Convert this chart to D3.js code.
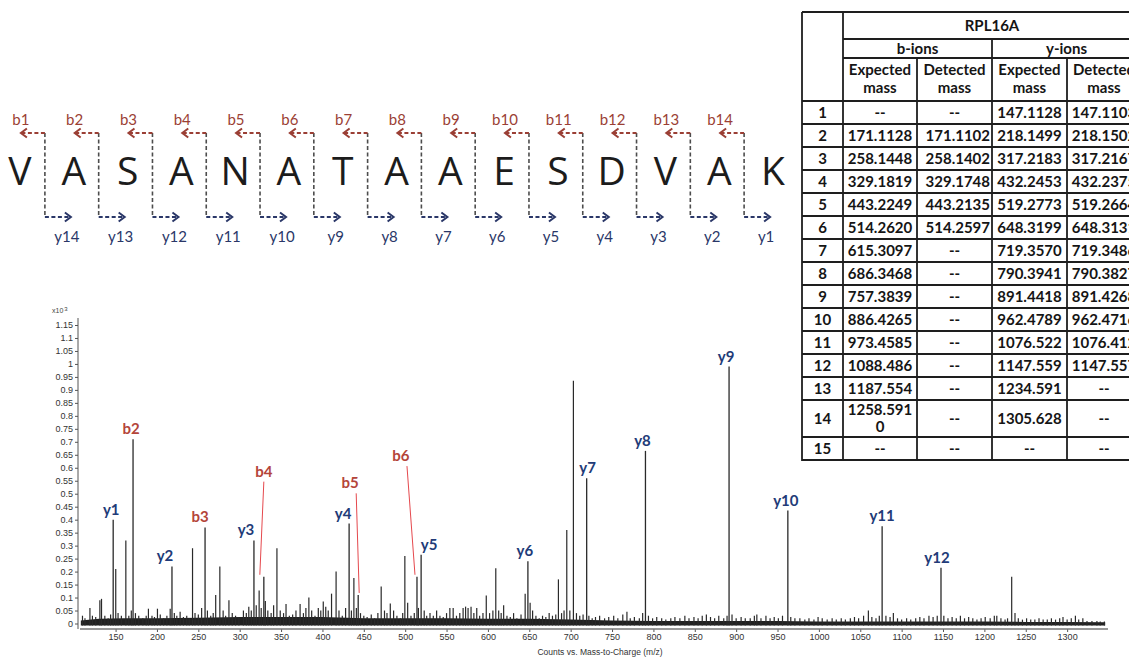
<!DOCTYPE html>
<html>
<head>
<meta charset="utf-8">
<script src="https://cdn.jsdelivr.net/npm/d3@7"></script>
<style>
  html, body { margin: 0; padding: 0; background: #fff; }
  svg { display: block; }
</style>
</head>
<body>
<svg id="fig" width="1129" height="658"></svg>
<script>
// ---------------- peptide fragmentation map ----------------
const residues = ["V","A","S","A","N","A","T","A","A","E","S","D","V","A","K"];
const bIons = ["b1","b2","b3","b4","b5","b6","b7","b8","b9","b10","b11","b12","b13","b14"];
const yIons = ["y14","y13","y12","y11","y10","y9","y8","y7","y6","y5","y4","y3","y2","y1"];

// ---------------- fragment mass table (RPL16A) ----------------
const tableTitle = "RPL16A";
const tableRows = ["1","2","3","4","5","6","7","8","9","10","11","12","13","14","15"];
const bExpected = ["--","171.1128","258.1448","329.1819","443.2249","514.2620","615.3097","686.3468","757.3839","886.4265","973.4585","1088.486","1187.554","1258.5910","--"];
const bDetected = ["--","171.1102","258.1402","329.1748","443.2135","514.2597","--","--","--","--","--","--","--","--","--"];
const yExpected = ["147.1128","218.1499","317.2183","432.2453","519.2773","648.3199","719.3570","790.3941","891.4418","962.4789","1076.522","1147.559","1234.591","1305.628","--"];
const yDetected = ["147.1103","218.1502","317.2167","432.2375","519.2664","648.3131","719.3486","790.3827","891.4268","962.4716","1076.412","1147.557","--","--","--"];

// ---------------- MS/MS spectrum (counts x10^3) ----------------
const ionNames  = ["y1","b2","y2","b3","y3","b4","y4","b5","b6","y5","y6","y7","y8","y9","y10","y11","y12"];
const ionMz     = [147.1103,171.1102,218.1502,258.1402,317.2167,329.1748,432.2375,443.2135,514.2597,519.2664,648.3131,719.3486,790.3827,891.4268,962.4716,1076.412,1147.557];
const ionCounts = [0.40,0.71,0.22,0.37,0.32,0.18,0.385,0.11,0.18,0.265,0.24,0.56,0.665,0.99,0.435,0.375,0.215];

// unassigned peaks: [m/z, counts]
const otherPeaks = [
  [110,.03],[113,.02],[119,.06],[122,.03],[126,.025],[131,.09],[133,.095],[137,.03],[141,.02],[144,.035],
  [150.2,.21],[153,.04],[157,.03],[162.4,.32],[166,.03],[169,.05],[174,.04],[178,.03],[183,.02],[187,.03],
  [189.7,.057],[194,.03],[197,.025],[200.6,.057],[204,.035],[208,.02],[212,.03],[216,.057],[221,.04],[224,.03],
  [228,.045],[232,.025],[236,.03],[239,.02],[243,.29],[246,.04],[250,.035],[254,.06],[261,.05],[265,.03],
  [268,.04],[271,.11],[276,.22],[280,.05],[283,.03],[287,.09],[291,.04],[295,.03],[299,.025],[304.5,.05],
  [308,.04],[311,.065],[314,.05],[320,.07],[323.5,.127],[326,.06],[331,.087],[334,.05],[338,.04],[341,.07],
  [345,.29],[349,.05],[353,.04],[356,.075],[360,.03],[364,.035],[368,.05],[373,.075],[377,.04],[380,.06],
  [383.6,.10],[387,.05],[391,.03],[395,.06],[398,.05],[401,.085],[404,.065],[407,.05],[411,.115],[416.5,.20],
  [420,.05],[424,.03],[428,.06],[435,.05],[438,.175],[441,.06],[446,.04],[450,.03],[454,.025],[459,.035],
  [463,.02],[467,.04],[471,.143],[475,.05],[478,.04],[482,.077],[486,.05],[490,.03],[494,.02],[497,.04],
  [499.6,.26],[503,.08],[507,.03],[511,.04],[516,.06],[523,.05],[526,.03],[530,.04],[534,.03],[538,.05],
  [542,.03],[546,.025],[550,.04],[554,.06],[558,.06],[562,.03],[566,.04],[570,.06],[573,.065],[576,.06],
  [579.6,.065],[583,.04],[586.5,.06],[590,.03],[594,.04],[598,.108],[602,.04],[606,.05],[609.5,.213],[613,.05],
  [616,.04],[619,.07],[623,.03],[627,.025],[631,.04],[635,.02],[640,.035],[645,.115],[651,.08],[654,.05],
  [658,.03],[662,.02],[666,.03],[670,.025],[674,.04],[678,.03],[682,.035],[685.2,.17],[689,.04],[692,.05],
  [695.3,.36],[699,.05],[703.3,.935],[707,.04],[711,.03],[715,.035],[722,.03],[726,.02],[730,.025],[735,.03],
  [741,.02],[746,.025],[752,.03],[757,.02],[763,.035],[768,.045],[772,.02],[777,.025],[783,.02],[787,.04],
  [794,.03],[799,.02],[804,.025],[810,.02],[815,.015],[821,.02],[826,.025],[832,.02],[838,.03],[843,.02],
  [849,.025],[854,.02],[859,.03],[864,.035],[869,.025],[874,.02],[879,.03],[885,.02],[889,.03],[895,.035],
  [900,.02],[906,.025],[911,.02],[917,.02],[922,.03],[925,.035],[930,.02],[936,.03],[941,.02],[946,.025],
  [951,.02],[956,.03],[966,.025],[971,.02],[977,.02],[983,.015],[988,.02],[994,.015],[999,.025],[1004,.02],
  [1010,.015],[1016,.02],[1021,.015],[1027,.02],[1032,.015],[1038,.02],[1043,.025],[1048,.02],[1054,.03],[1059.8,.05],
  [1064,.025],[1069,.02],[1073,.03],[1081,.03],[1086,.025],[1090,.04],[1095,.02],[1100,.015],[1106,.02],[1111,.015],
  [1117,.02],[1122,.025],[1127,.02],[1133,.03],[1138,.025],[1143,.03],[1151,.03],[1156,.02],[1161,.025],[1166,.02],
  [1171,.03],[1176,.02],[1181,.025],[1186,.02],[1191,.015],[1196,.02],[1201,.025],[1207,.02],[1212,.03],[1215,.03],
  [1220,.02],[1225,.015],[1228,.02],[1233,.18],[1237,.04],[1241,.02],[1246,.015],[1251,.02],[1256,.015],[1261,.015],
  [1266,.02],[1271,.015],[1276,.015],[1281,.02],[1286,.015],[1291,.02],[1295,.025],[1300,.015],[1305,.02],[1310,.03],
  [1314,.015],[1319,.02],[1324,.01],[1330,.01],[1336,.01],[1340,.008],[1345,.008]
];

// chemical-noise floor: [m/z, counts]
const noiseFloor = [
  [108,.012],[130,.018],[160,.02],[200,.02],[250,.022],[300,.025],[350,.025],[400,.025],[450,.02],[500,.02],
  [550,.02],[600,.018],[650,.018],[700,.015],[750,.012],[800,.01],[850,.01],[900,.01],[950,.01],[1000,.008],
  [1050,.008],[1100,.008],[1150,.008],[1200,.008],[1250,.006],[1300,.006],[1346,.005]
];

const yTicks = [0,0.05,0.1,0.15,0.2,0.25,0.3,0.35,0.4,0.45,0.5,0.55,0.6,0.65,0.7,0.75,0.8,0.85,0.9,0.95,1,1.05,1.1,1.15];
const xTicks = [150,200,250,300,350,400,450,500,550,600,650,700,750,800,850,900,950,1000,1050,1100,1150,1200,1250,1300];
const xTitle = "Counts vs. Mass-to-Charge (m/z)";

// ============================================================
const svg = d3.select("#fig");
const SANS = "Lato, 'Open Sans', sans-serif";
const AXISFONT = "'Liberation Sans', Arial, sans-serif";
const RED_B = "#9b3f35", NAVY_Y = "#2a3768";

// ---------- peptide sequence with fragmentation sites ----------
const seq = svg.append("g");
const seqX = d3.scalePoint().domain(d3.range(residues.length)).range([20, 773]);
const topY = 133, botY = 217;

seq.selectAll("text.res").data(residues).join("text")
  .attr("class", "res")
  .attr("x", (d, i) => seqX(i)).attr("y", 185)
  .attr("text-anchor", "middle")
  .attr("font-family", "'Open Sans', sans-serif").attr("font-size", 39)
  .attr("fill", "#1c1c1c").text(d => d);

const sites = d3.range(residues.length - 1).map(i => ({
  i, sx: (seqX(i) + seqX(i + 1)) / 2 - 2
}));

const site = seq.selectAll("g.site").data(sites).join("g").attr("class", "site");
site.append("line")
  .attr("x1", d => d.sx).attr("x2", d => d.sx)
  .attr("y1", topY).attr("y2", botY)
  .attr("stroke", "#4d4d4d").attr("stroke-width", 1.6).attr("stroke-dasharray", "4,2.5");
// b-ion arrow (N-terminal side)
site.append("line")
  .attr("x1", d => d.sx).attr("x2", d => d.sx - 24)
  .attr("y1", topY).attr("y2", topY)
  .attr("stroke", RED_B).attr("stroke-width", 1.8).attr("stroke-dasharray", "4,2.5");
site.append("polyline")
  .attr("points", d => `${d.sx - 18},${topY - 4.5} ${d.sx - 24},${topY} ${d.sx - 18},${topY + 4.5}`)
  .attr("fill", "none").attr("stroke", RED_B).attr("stroke-width", 2);
// y-ion arrow (C-terminal side)
site.append("line")
  .attr("x1", d => d.sx).attr("x2", d => d.sx + 26)
  .attr("y1", botY).attr("y2", botY)
  .attr("stroke", NAVY_Y).attr("stroke-width", 1.8).attr("stroke-dasharray", "4,2.5");
site.append("polyline")
  .attr("points", d => `${d.sx + 20},${botY - 4.5} ${d.sx + 26},${botY} ${d.sx + 20},${botY + 4.5}`)
  .attr("fill", "none").attr("stroke", NAVY_Y).attr("stroke-width", 2);
site.append("text")
  .attr("x", d => d.sx - 24).attr("y", 125)
  .attr("text-anchor", "middle").attr("font-family", SANS).attr("font-size", 15)
  .attr("fill", RED_B).text(d => bIons[d.i]);
site.append("text")
  .attr("x", d => d.sx + 22).attr("y", 242)
  .attr("text-anchor", "middle").attr("font-family", SANS).attr("font-size", 15)
  .attr("fill", NAVY_Y).text(d => yIons[d.i]);

// ---------- spectrum ----------
const x = d3.scaleLinear().domain([107, 1350]).range([80, 1108.5]);
const y = d3.scaleLinear().domain([0, 1.15]).range([623.5, 325]);
const base = y(0) + 2;
const plot = svg.append("g");

plot.append("path").datum(noiseFloor)
  .attr("d", d3.area().x(d => x(d[0])).y0(base).y1(d => y(d[1])))
  .attr("fill", "#222");

plot.selectAll("line.minor").data(otherPeaks).join("line")
  .attr("class", "minor")
  .attr("x1", d => x(d[0])).attr("x2", d => x(d[0]))
  .attr("y1", base).attr("y2", d => y(d[1]))
  .attr("stroke", "#2a2a2a").attr("stroke-width", 1.2);

const ions = ionNames.map((n, i) => ({ name: n, mz: ionMz[i], v: ionCounts[i] }));
plot.selectAll("line.ion").data(ions).join("line")
  .attr("class", "ion")
  .attr("x1", d => x(d.mz)).attr("x2", d => x(d.mz))
  .attr("y1", base).attr("y2", d => y(d.v))
  .attr("stroke", "#2a2a2a").attr("stroke-width", 1.3);

// label placement: small horizontal nudges, and raised labels with leader lines
const labelNudge = { y1:-2, b2:-2, y2:-7, b3:-5, y3:-8, y4:-6, y5:8, y6:-3, y7:1, y8:-3, y9:-3, y10:-2, y11:0, y12:-4 };
const raised = {
  b4: { level: 0.585, dx: 0,   topDx: 0,   botDx: -4 },
  b5: { level: 0.54,  dx: -8,  topDx: -2,  botDx: 1 },
  b6: { level: 0.645, dx: -16, topDx: -10, botDx: -2 }
};
const ionColor = d => d.name[0] === "b" ? "#b4453a" : "#223b78";

ions.forEach(d => {
  const px = x(d.mz);
  const r = raised[d.name];
  if (r) {
    plot.append("line")
      .attr("x1", px + r.topDx).attr("y1", y(r.level) + 10)
      .attr("x2", px + r.botDx).attr("y2", y(d.v) - 2)
      .attr("stroke", "#e5484d").attr("stroke-width", 1);
    plot.append("text")
      .attr("x", px + r.dx).attr("y", y(r.level) + 5)
      .attr("text-anchor", "middle").attr("font-family", SANS)
      .attr("font-weight", 700).attr("font-size", 15)
      .attr("fill", ionColor(d)).text(d.name);
  } else {
    plot.append("text")
      .attr("x", px + (labelNudge[d.name] || 0)).attr("y", y(d.v) - 5)
      .attr("text-anchor", "middle").attr("font-family", SANS)
      .attr("font-weight", 700).attr("font-size", 15)
      .attr("fill", ionColor(d)).text(d.name);
  }
});

// axes
const yAxis = svg.append("g").attr("transform", "translate(78,0)")
  .call(d3.axisLeft(y).tickValues(yTicks).tickSize(3).tickPadding(2).tickFormat(d => String(d)));
yAxis.select(".domain").remove();
yAxis.append("line").attr("x1", 0).attr("x2", 0).attr("y1", 318).attr("y2", 629)
  .attr("stroke", "#555");
yAxis.selectAll(".tick line").attr("stroke", "#555");
yAxis.selectAll(".tick text").attr("font-family", AXISFONT).attr("font-size", 9).attr("fill", "#333");

const xAxis = svg.append("g").attr("transform", "translate(0,629)")
  .call(d3.axisBottom(x).tickValues(xTicks).tickSize(3).tickPadding(2).tickFormat(d => String(d)));
xAxis.select(".domain").remove();
xAxis.append("line").attr("x1", 80).attr("x2", 1108).attr("y1", 0).attr("y2", 0)
  .attr("stroke", "#777").attr("stroke-width", 1.5);
xAxis.selectAll(".tick line").attr("stroke", "#555");
xAxis.selectAll(".tick text").attr("font-family", AXISFONT).attr("font-size", 9).attr("fill", "#333");

svg.append("text").attr("x", 600).attr("y", 655).attr("text-anchor", "middle")
  .attr("font-family", AXISFONT).attr("font-size", 8.5).attr("fill", "#333").text(xTitle);

const mult = svg.append("text").attr("x", 52).attr("y", 313)
  .attr("font-family", AXISFONT).attr("font-size", 7).attr("fill", "#444");
mult.append("tspan").text("x10");
mult.append("tspan").attr("dx", 1).attr("dy", -2).attr("font-size", 6).text("3");

// ---------- mass table ----------
const tbl = svg.append("g");
const colX = [802, 843, 917, 992, 1067, 1141];
const hdrY = [12, 39, 58, 101];
const wrap = s => s.length > 8 ? [s.slice(0, 8), s.slice(8)] : [s];

const rows = [];
let rowTop = hdrY[3];
tableRows.forEach((r, i) => {
  const cells = [bExpected[i], bDetected[i], yExpected[i], yDetected[i]];
  const lines = d3.max(cells, c => wrap(c).length);
  const h = lines > 1 ? 37 : 23;
  rows.push({ label: r, cells, top: rowTop, h });
  rowTop += h;
});
const tableBottom = rowTop + 1;

const rule = (x1, y1, x2, y2) => tbl.append("line")
  .attr("x1", x1).attr("y1", y1).attr("x2", x2).attr("y2", y2)
  .attr("stroke", "#1e1e1e").attr("stroke-width", 1.8);

rule(colX[0], hdrY[0], colX[5], hdrY[0]);
rule(colX[1], hdrY[1], colX[5], hdrY[1]);
rule(colX[1], hdrY[2], colX[5], hdrY[2]);
rule(colX[0], hdrY[3], colX[5], hdrY[3]);
rows.forEach(r => rule(colX[0], r.top + r.h, colX[5], r.top + r.h));
rule(colX[0], hdrY[0], colX[0], tableBottom);
rule(colX[1], hdrY[0], colX[1], tableBottom);
rule(colX[2], hdrY[2], colX[2], tableBottom);
rule(colX[3], hdrY[1], colX[3], tableBottom);
rule(colX[4], hdrY[2], colX[4], tableBottom);

const cellText = (cx, cy, s, anchor) => tbl.append("text")
  .attr("x", cx).attr("y", cy).attr("text-anchor", anchor || "middle")
  .attr("font-family", SANS).attr("font-weight", 700).attr("font-size", 15)
  .attr("fill", "#151515").text(s);

cellText((colX[1] + colX[5]) / 2, 31, tableTitle);
cellText((colX[1] + colX[3]) / 2, 54, "b-ions");
cellText((colX[3] + colX[5]) / 2, 54, "y-ions");
["Expected", "Detected", "Expected", "Detected"].forEach((h, j) => {
  const cx = (colX[j + 1] + colX[j + 2]) / 2;
  cellText(cx, 75, h);
  cellText(cx, 93, "mass");
});
rows.forEach(r => {
  const cy = r.top + r.h / 2 + 5;
  cellText((colX[0] + colX[1]) / 2, cy, r.label);
  r.cells.forEach((c, j) => {
    // detected b-ion masses sit flush right in their column
    if (j === 1 && c !== "--") {
      cellText(colX[3] - 2, cy, c, "end");
      return;
    }
    const cx = (colX[j + 1] + colX[j + 2]) / 2;
    const parts = wrap(c);
    parts.forEach((p, k) => cellText(cx, cy + (k - (parts.length - 1) / 2) * 17, p));
  });
});
</script>
</body>
</html>
